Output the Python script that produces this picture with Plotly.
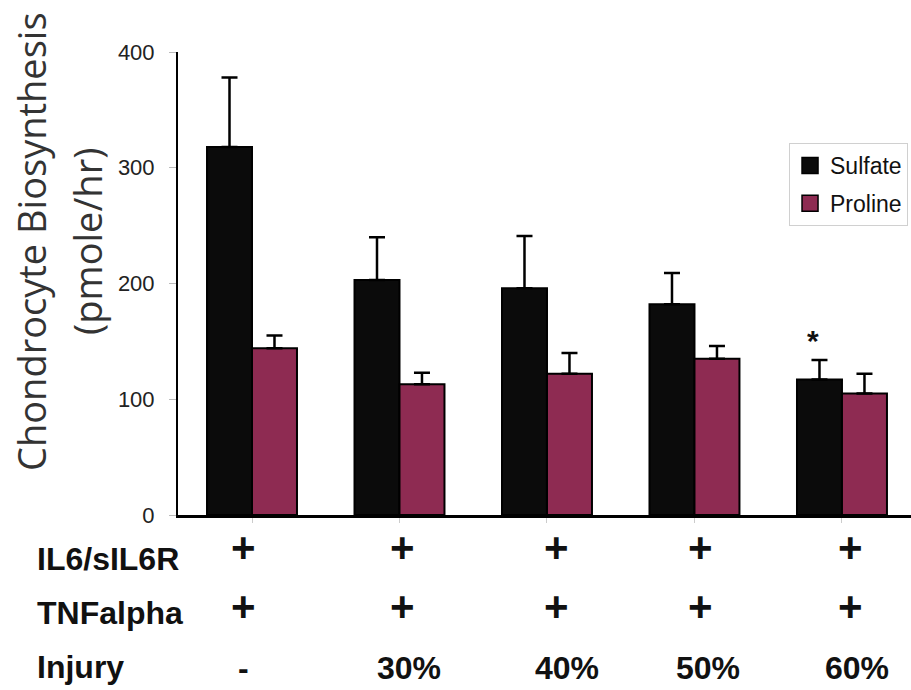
import plotly.graph_objects as go

# ---- data ----
injury = ["-", "30%", "40%", "50%", "60%"]
il6 = ["+", "+", "+", "+", "+"]
tnf = ["+", "+", "+", "+", "+"]
sulfate = [318, 203, 196, 182, 117]
sulfate_err = [60, 37, 45, 27, 17]
proline = [144, 113, 122, 135, 105]
proline_err = [11, 10, 18, 11, 17]
y_ticks = [0, 100, 200, 300, 400]
row_names = ["IL6/sIL6R", "TNFalpha", "Injury"]

W, H = 911, 690
L, R, T, B = 178, 0, 52, 175
plot_h = H - T - B


def py(p):
    """pixel row -> paper y"""
    return (H - B - p) / plot_h


cats = list(range(len(injury)))
BLACK = "#0b0b0b"
MAROON = "#8e2b52"
LAB_FONT = dict(family="Liberation Sans, Arial", size=32, color="#111111", weight="bold")
PLUS_FONT = dict(family="Liberation Sans, Arial", size=42, color="#111111", weight="bold")

fig = go.Figure()
fig.add_trace(go.Bar(
    x=cats, y=sulfate, name="Sulfate", showlegend=False,
    marker=dict(color=BLACK, line=dict(color="black", width=2)),
    error_y=dict(type="data", symmetric=False, array=sulfate_err,
                 arrayminus=[0] * len(sulfate), color="black", thickness=2.5, width=8),
))
fig.add_trace(go.Bar(
    x=cats, y=proline, name="Proline", showlegend=False,
    marker=dict(color=MAROON, line=dict(color="black", width=2)),
    error_y=dict(type="data", symmetric=False, array=proline_err,
                 arrayminus=[0] * len(proline), color="black", thickness=2.5, width=8),
))
# legend entries
for nm, col, grp in [("Sulfate", BLACK, "a"), ("Proline", MAROON, "b")]:
    fig.add_trace(go.Scatter(
        x=[None], y=[None], mode="markers", name=nm, legendgroup=grp,
        marker=dict(symbol="square", size=16, color=col, line=dict(color="black", width=1.5)),
    ))

ann = []
# y-axis title (two lines)
TITLE_FONT = dict(family="Open Sans", size=38, color="#333333")
ann.append(dict(text="Chondrocyte Biosynthesis", xref="paper", yref="paper", x=0, y=py(242),
                xshift=31 - L, xanchor="center", yanchor="middle", textangle=-90, showarrow=False,
                font=TITLE_FONT))
ann.append(dict(text="(pmole/hr)", xref="paper", yref="paper", x=0, y=py(242),
                xshift=87 - L, xanchor="center", yanchor="middle", textangle=-90, showarrow=False,
                font=TITLE_FONT))
# row labels
for name, yy in zip(row_names, [559, 613, 667]):
    ann.append(dict(text=name, xref="paper", yref="paper", x=0, xshift=35 - L, y=py(yy),
                    xanchor="left", yanchor="middle", showarrow=False, font=LAB_FONT))
# per-group symbols
plus_dx = [-9, 3, 10, 6, 9]
inj_dx = [-9, 10, 20, 14, 15]
for i in cats:
    ann.append(dict(text=il6[i], xref="x", yref="paper", x=i, xshift=plus_dx[i], y=py(547),
                    yanchor="middle", showarrow=False, font=PLUS_FONT))
    ann.append(dict(text=tnf[i], xref="x", yref="paper", x=i, xshift=plus_dx[i], y=py(606),
                    yanchor="middle", showarrow=False, font=PLUS_FONT))
    ann.append(dict(text=injury[i], xref="x", yref="paper", x=i, xshift=inj_dx[i], y=py(668),
                    yanchor="middle", showarrow=False, font=LAB_FONT))
# significance marker
ann.append(dict(text="*", xref="x", yref="y", x=cats[4], xshift=-29, y=sulfate[4] + sulfate_err[4] + 17,
                yanchor="middle", showarrow=False,
                font=dict(family="Liberation Sans, Arial", size=30, color="#111111", weight="bold")))

fig.update_layout(
    width=W, height=H,
    margin=dict(l=L, r=R, t=T, b=B, autoexpand=False),
    paper_bgcolor="white", plot_bgcolor="white",
    barmode="group", bargap=0.39, bargroupgap=0,
    showlegend=True,
    legend=dict(x=0.8336, y=py(143), xanchor="left", yanchor="top",
                bgcolor="white", bordercolor="#d0d0d0", borderwidth=1,
                font=dict(family="Liberation Sans, Arial", size=23, color="#111111"),
                tracegroupgap=5, traceorder="grouped"),
    annotations=ann,
    xaxis=dict(range=[-0.5017, 4.468], showticklabels=False, tickmode="array", tickvals=cats,
               tickson="boundaries", ticks="outside", ticklen=5, tickcolor="#cccccc",
               showline=True, linecolor="black", linewidth=3, showgrid=False, zeroline=False),
    yaxis=dict(range=[0, 400], tickvals=y_ticks, ticks="outside", ticklen=7, tickcolor="#bbbbbb",
               tickfont=dict(family="Liberation Sans, Arial", size=22, color="#222222"),
               ticklabelstandoff=10,
               showline=True, linecolor="black", linewidth=2, showgrid=False, zeroline=False),
)

fig.write_html("out.html")
